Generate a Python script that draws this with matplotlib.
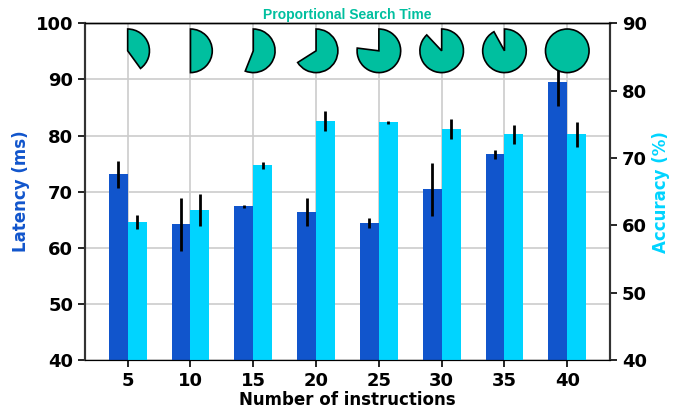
import matplotlib
matplotlib.use("Agg")
import matplotlib.pyplot as plt
import numpy as np

instructions = [5, 10, 15, 20, 25, 30, 35, 40]
latency = [73.1, 64.2, 67.4, 66.4, 64.4, 70.4, 76.7, 89.5]
latency_err = [2.4, 4.75, 0.3, 2.45, 0.95, 4.75, 0.8, 4.2]
accuracy = [60.5, 62.3, 68.9, 75.5, 75.3, 74.3, 73.5, 73.5]
accuracy_err = [1.0, 2.4, 0.55, 1.5, 0.2, 1.5, 1.35, 1.85]
search_fraction = [0.40, 0.50, 0.56, 0.66, 0.77, 0.88, 0.92, 1.00]

lat_color = "#1155CC"
acc_color = "#00D4FF"
pie_color = "#00BF9F"

fig = plt.figure(figsize=(6.88, 4.09), dpi=100)
ax = fig.add_axes([0.1235, 0.1198, 0.7631, 0.8232])
ax2 = ax.twinx()

x = np.arange(len(instructions))
w = 0.3

ax.bar(x - w / 2, latency, w, color=lat_color, zorder=2)
ax.errorbar(x - w / 2, latency, yerr=latency_err, fmt="none", ecolor="black",
            elinewidth=2, capsize=0, zorder=3)
ax2.bar(x + w / 2, accuracy, w, color=acc_color, zorder=2)
ax2.errorbar(x + w / 2, accuracy, yerr=accuracy_err, fmt="none", ecolor="black",
             elinewidth=2, capsize=0, zorder=3)

ax.set_ylim(40, 100)
ax2.set_ylim(40, 90)
ax.set_xticks(x)
ax.set_xticklabels([str(v) for v in instructions])
ax.set_axisbelow(True)
ax.grid(True, color="#cccccc", linewidth=1.2)

for a in (ax, ax2):
    a.tick_params(axis="both", labelsize=13, length=5, width=1.2)
    for lbl in a.get_xticklabels() + a.get_yticklabels():
        lbl.set_fontweight("bold")
    for s in ("left", "right"):
        a.spines[s].set_color("#333333")
        a.spines[s].set_linewidth(1.5)
    a.spines["top"].set_linewidth(1.0)

ax.set_xlabel("Number of instructions", fontsize=12, fontweight="bold", labelpad=1)
ax.set_ylabel("Latency (ms)", fontsize=12, fontweight="bold", color=lat_color)
ax2.set_ylabel("Accuracy (%)", fontsize=12, fontweight="bold", color=acc_color)

ax.set_title("Proportional Search Time", fontsize=10, fontweight="bold",
             color=pie_color, family="Liberation Sans", pad=3)

# small pies above each group showing the share of search time
for xi, frac in zip(x, search_fraction):
    ins = ax.inset_axes([xi - 0.36, 95.1 - 4.0, 0.72, 8.0], transform=ax.transData,
                        zorder=5)
    if frac >= 0.999:
        vals, cols = [1.0], [pie_color]
    else:
        vals, cols = [frac, 1 - frac], [pie_color, "none"]
    wedges, _ = ins.pie(vals, colors=cols, startangle=90, counterclock=False,
                        wedgeprops=dict(linewidth=1.2))
    wedges[0].set_edgecolor("black")
    for wdg in wedges[1:]:
        wdg.set_edgecolor("none")
    ins.set_xlim(-1.03, 1.03)
    ins.set_ylim(-1.03, 1.03)
    ins.set_axis_off()

fig.savefig("out.png", dpi=100)
